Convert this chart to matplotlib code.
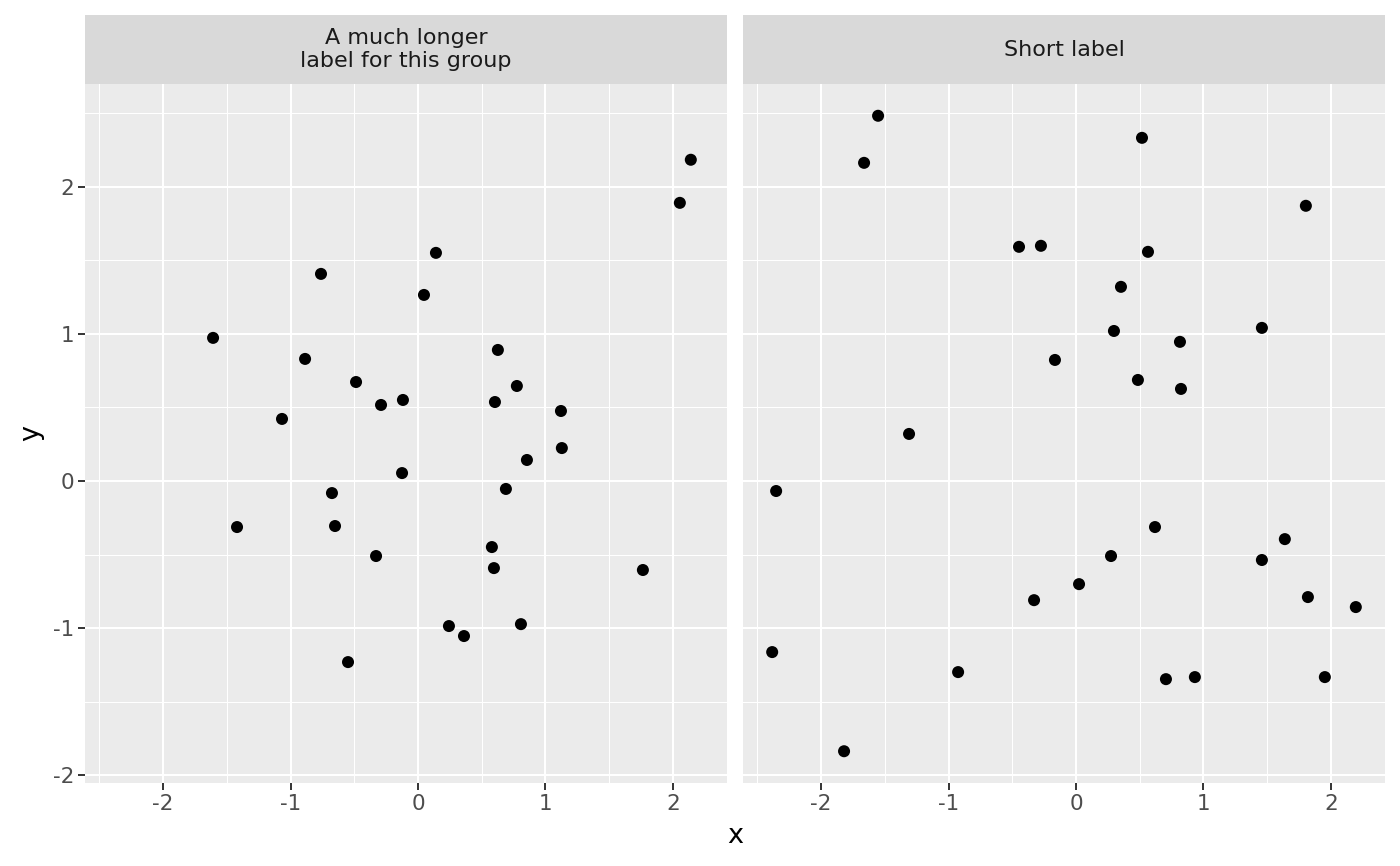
import matplotlib.pyplot as plt
import numpy as np

panel_labels = ['A much longer\nlabel for this group', 'Short label']

x_long = [-1.608, -1.420, -1.067, -0.886, -0.761, -0.675, -0.651, -0.549, -0.486, -0.329,
          -0.290, -0.118, -0.125, 0.047, 0.141, 0.243, 0.361, 0.580, 0.596, 0.604,
          0.627, 0.690, 0.776, 0.808, 0.855, 1.122, 1.129, 1.765, 2.055, 2.141]
y_long = [0.973, -0.313, 0.422, 0.830, 1.408, -0.082, -0.306, -1.231, 0.673, -0.510,
          0.517, 0.551, 0.054, 1.265, 1.551, -0.986, -1.054, -0.449, -0.592, 0.537,
          0.891, -0.054, 0.646, -0.973, 0.143, 0.476, 0.224, -0.605, 1.891, 2.184]

x_short = [-2.353, -2.384, -1.820, -1.663, -1.553, -1.310, -0.925, -0.447, -0.275, -0.329,
           -0.165, 0.024, 0.275, 0.298, 0.353, 0.486, 0.518, 0.565, 0.620, 0.706,
           0.816, 0.824, 0.933, 1.459, 1.459, 1.639, 1.804, 1.820, 1.953, 2.196]
y_short = [-0.068, -1.163, -1.837, 2.163, 2.483, 0.320, -1.299, 1.592, 1.599, -0.810,
           0.823, -0.701, -0.510, 1.020, 1.320, 0.687, 2.333, 1.558, -0.313, -1.347,
           0.946, 0.626, -1.333, 1.041, -0.537, -0.395, 1.871, -0.789, -1.333, -0.857]

ticks = [-2, -1, 0, 1, 2]
tick_labels = ['-2', '-1', '0', '1', '2']

all_x = x_long + x_short
all_y = y_long + y_short
xr = max(all_x) - min(all_x)
yr = max(all_y) - min(all_y)
xlim = (min(all_x) - 0.05 * xr, max(all_x) + 0.05 * xr)
ylim = (min(all_y) - 0.05 * yr, max(all_y) + 0.05 * yr)

W, H = 1400, 866
fig = plt.figure(figsize=(W / 100, H / 100), dpi=100)

panel_top, panel_bot = 84, 783
strip_top = 15
lefts = [85, 743]
width = 642

data = [(x_long, y_long), (x_short, y_short)]
for i, (xs, ys) in enumerate(data):
    l = lefts[i]
    ax = fig.add_axes([l / W, 1 - panel_bot / H, width / W, (panel_bot - panel_top) / H])
    ax.set_facecolor('#EBEBEB')
    ax.set_xlim(xlim)
    ax.set_ylim(ylim)
    ax.set_xticks(ticks)
    ax.set_xticklabels(tick_labels)
    ax.set_xticks([-2.5, -1.5, -0.5, 0.5, 1.5], minor=True)
    ax.set_yticks(ticks)
    ax.set_yticks([-1.5, -0.5, 0.5, 1.5, 2.5], minor=True)
    ax.grid(which='major', color='white', linewidth=1.5)
    ax.grid(which='minor', color='white', linewidth=0.75)
    ax.set_axisbelow(True)
    for s in ax.spines.values():
        s.set_visible(False)
    ax.tick_params(which='major', length=5, width=1.4, color='#333333',
                   labelcolor='#4D4D4D', labelsize=15.5, pad=3)
    ax.tick_params(which='minor', length=0)
    if i == 0:
        ax.set_yticklabels(tick_labels)
    else:
        ax.tick_params(axis='y', which='major', length=0, labelleft=False)
    ax.scatter(xs, ys, s=75, color='black', edgecolors='none', zorder=3)

    sax = fig.add_axes([l / W, 1 - panel_top / H, width / W, (panel_top - strip_top) / H])
    sax.set_facecolor('#D9D9D9')
    sax.set_xticks([])
    sax.set_yticks([])
    for s in sax.spines.values():
        s.set_visible(False)
    sax.text(0.5, 0.5, panel_labels[i], ha='center', va='center', fontsize=16,
             color='#1A1A1A', transform=sax.transAxes, linespacing=1.2)

fig.text((85 + 1385) / 2 / W, 1 - 836 / H, 'x', ha='center', va='center', fontsize=19.5)
fig.text(31 / W, 1 - 433 / H, 'y', ha='center', va='center', fontsize=19.5, rotation=90)

fig.savefig('out.png', dpi=100)
